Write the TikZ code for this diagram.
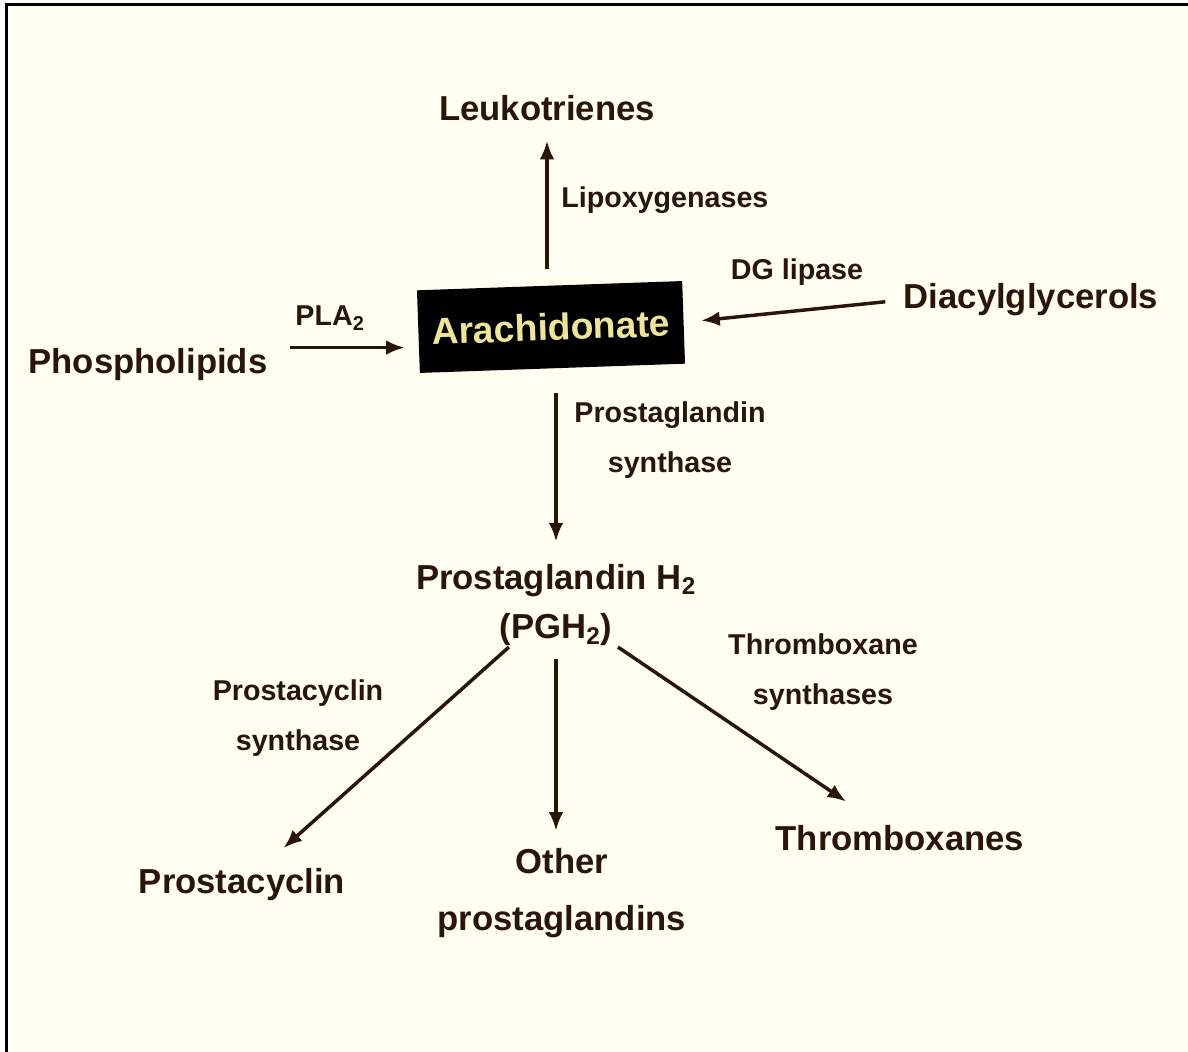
\documentclass[tikz,border=0pt]{standalone}
\usepackage{fontspec}
\setmainfont{Liberation Sans}
\usepackage{xcolor}
\usetikzlibrary{arrows.meta}

\definecolor{paper}{RGB}{255,254,240}
\definecolor{ink}{RGB}{42,22,8}
\definecolor{boxtext}{RGB}{238,230,150}

\begin{document}
\begin{tikzpicture}[x=0.75pt,y=0.75pt,yscale=-1,xscale=1,
  compound/.style={text=ink, font=\fontsize{26}{31}\selectfont\bfseries, inner sep=0.75pt, align=center},
  enzyme/.style={text=ink, font=\fontsize{21.5}{37}\selectfont\bfseries, inner sep=0.75pt, align=center},
  arr/.style={draw=ink, line width=2.6pt, -{Latex[length=14pt,width=11pt]}}]

\useasboundingbox (0,0) rectangle (1188,1052);
\fill[white] (0,0) rectangle (1188,1052);
\fill[paper] (6,5) rectangle (1188,1052);
\draw[line width=2.25pt] (6,1052) -- (6,5) -- (1188,5);

% compounds
\node (leuko) [compound] at (547,108) {Leukotrienes};
\node (arach) [compound, fill=black, text=boxtext, font=\fontsize{28}{33}\selectfont\bfseries, rotate=2, minimum width=199pt, minimum height=62pt] at (551,327) {Arachidonate};
\node (phos) [compound] at (148,365) {Phospholipids};
\node (dag) [compound] at (1031,300) {Diacylglycerols};
\node (pgh) [compound] at (556,605) {Prostaglandin H\textsubscript{2}\\[6pt](PGH\textsubscript{2})};
\node (pcyc) [compound] at (242,885) {Prostacyclin};
\node (other) [compound] at (562,893) {Other\\[12pt]prostaglandins};
\node (txa) [compound] at (900,838) {Thromboxanes};

% enzymes
\node (lipox) [enzyme, anchor=west] at (560,200) {Lipoxygenases};
\node (pla) [enzyme] at (330,318) {PLA\textsubscript{2}};
\node (dgl) [enzyme] at (797,272) {DG lipase};
\node (pgs) [enzyme] at (670,440) {Prostaglandin\\synthase};
\node (pcs) [enzyme] at (298,718) {Prostacyclin\\synthase};
\node (txs) [enzyme] at (823,672) {Thromboxane\\synthases};

% arrows
\draw[arr, shorten <=12pt, shorten >=14pt] (arach.north -| leuko.south) -- (leuko.south);
\draw[arr, shorten <=16pt, shorten >=10pt] (phos.north east) -- (arach.west |- phos.north east);
\draw[arr, shorten <=13pt, shorten >=13pt] (dag.west) -- (arach.east);
\draw[arr, shorten <=18pt, shorten >=16pt] (arach.south -| pgh.north) -- (pgh.north);
\draw[arr, shorten >=22pt] (pgh) -- (pcyc);
\draw[arr, shorten <=9pt, shorten >=12pt] (pgh.south) -- (pgh.south |- other.north);
\draw[arr, shorten >=30pt] (pgh) -- (txa);

\end{tikzpicture}
\end{document}
